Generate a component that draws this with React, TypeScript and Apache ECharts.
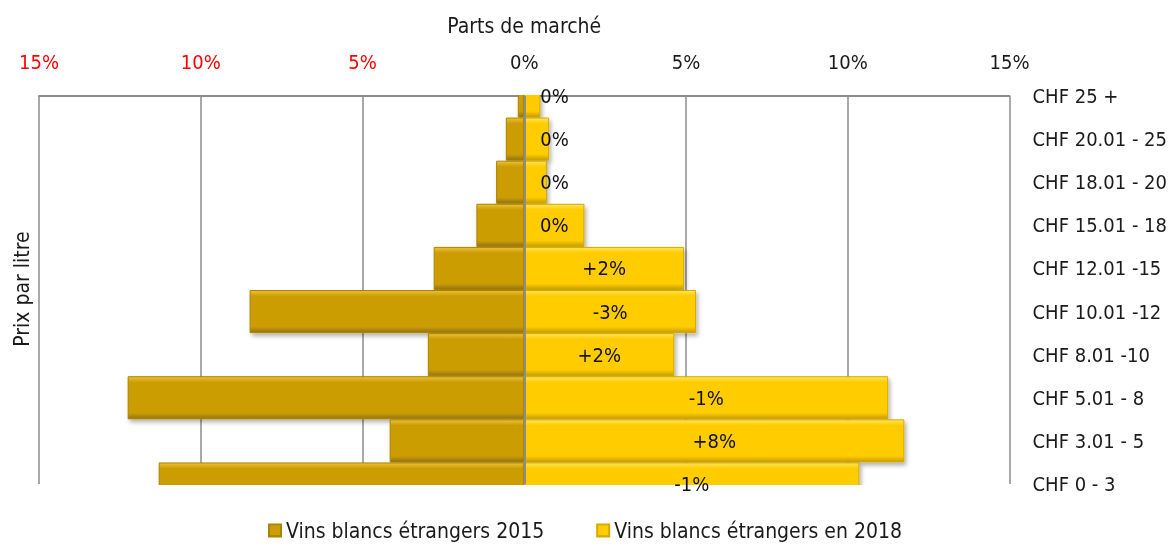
import React, { useEffect, useRef } from "react";
import * as echarts from "echarts";

const categories = [
  "CHF 25 +",
  "CHF 20.01 - 25",
  "CHF 18.01 - 20",
  "CHF 15.01 - 18",
  "CHF 12.01 -15",
  "CHF 10.01 -12",
  "CHF 8.01 -10",
  "CHF 5.01 - 8",
  "CHF 3.01 - 5",
  "CHF 0 - 3",
];
const share2015 = [0.2, 0.57, 0.87, 1.48, 2.8, 8.49, 2.98, 12.26, 4.16, 11.3];
const share2018 = [0.5, 0.77, 0.7, 1.86, 4.94, 5.31, 4.64, 11.25, 11.75, 10.36];
const changeLabels = ["0%", "0%", "0%", "0%", "+2%", "-3%", "+2%", "-1%", "+8%", "-1%"];
const xTicks = { min: -15, max: 15, interval: 5 };

const NAME_2015 = "Vins blancs étrangers 2015";
const NAME_2018 = "Vins blancs étrangers en 2018";
const FONT = '"DejaVu Sans Condensed", "DejaVu Sans", sans-serif';

function bevel(light: string, base: string, dark: string) {
  return new echarts.graphic.LinearGradient(0, 0, 0, 1, [
    { offset: 0, color: light },
    { offset: 0.13, color: base },
    { offset: 0.86, color: base },
    { offset: 1, color: dark },
  ]);
}

export default function App() {
  const ref = useRef<HTMLDivElement>(null);
  useEffect(() => {
    if (!ref.current) return;
    const chart = echarts.init(ref.current, null, { renderer: "svg" });
    const shadow = {
      shadowColor: "rgba(0,0,0,0.3)",
      shadowBlur: 4,
      shadowOffsetX: 2,
      shadowOffsetY: 3,
    };
    const gridLeft = 39;
    const gridRight = 160;
    const gridTop = 96;
    const gridBottom = 62;
    const W = 1170;
    const H = 546;
    chart.setOption({
      animation: false,
      textStyle: { fontFamily: FONT },
      grid: { left: gridLeft, right: gridRight, top: gridTop, bottom: gridBottom, containLabel: false },
      legend: {
        data: [NAME_2015, NAME_2018],
        top: 515,
        left: "center",
        z: 20,
        itemWidth: 12,
        itemHeight: 12,
        itemGap: 52,
        icon: "rect",
        textStyle: { fontFamily: FONT, fontSize: 21, color: "#1a1a1a" },
      },
      xAxis: {
        type: "value",
        position: "top",
        min: xTicks.min,
        max: xTicks.max,
        interval: xTicks.interval,
        name: "Parts de marché",
        nameLocation: "middle",
        nameGap: 60,
        nameTextStyle: { fontFamily: FONT, fontSize: 21, color: "#1a1a1a" },
        axisLine: { show: true, lineStyle: { color: "#8c8c8c", width: 2 } },
        axisTick: { show: false },
        splitLine: { show: true, lineStyle: { color: "#8c8c8c", width: 1.5 } },
        axisLabel: {
          margin: 24,
          fontFamily: FONT,
          fontSize: 20,
          formatter: (v: number) => (v < 0 ? `{neg|${Math.abs(v)}%}` : `{pos|${v}%}`),
          rich: {
            neg: { color: "#ff0000", fontFamily: FONT, fontSize: 20 },
            pos: { color: "#1a1a1a", fontFamily: FONT, fontSize: 20 },
          },
        },
      },
      yAxis: {
        type: "category",
        data: categories,
        inverse: true,
        position: "right",
        boundaryGap: false,
        axisLine: { show: false },
        axisTick: { show: false },
        splitLine: { show: false },
        axisLabel: { margin: 23, color: "#1a1a1a", fontFamily: FONT, fontSize: 20 },
      },
      graphic: [
        {
          type: "rect",
          z: 5,
          silent: true,
          shape: { x: gridLeft - 10, y: gridTop - 24, width: W - gridLeft - gridRight + 20, height: 23 },
          style: { fill: "#ffffff" },
        },
        {
          type: "rect",
          z: 5,
          silent: true,
          shape: { x: gridLeft - 10, y: H - gridBottom + 1, width: W - gridLeft - gridRight + 20, height: 30 },
          style: { fill: "#ffffff" },
        },
        {
          type: "text",
          x: 22,
          y: 289,
          rotation: Math.PI / 2,
          style: {
            text: "Prix par litre",
            fontFamily: FONT,
            fontSize: 21,
            fill: "#1a1a1a",
            align: "center",
            verticalAlign: "middle",
          },
        },
      ],
      series: [
        {
          name: NAME_2015,
          type: "bar",
          data: share2015.map((v) => -v),
          barCategoryGap: "0%",
          barGap: "-100%",
          itemStyle: {
            color: bevel("#ecc234", "#cc9d06", "#93720a"),
            borderColor: "#a98304",
            borderWidth: 1,
            ...shadow,
          },
        },
        {
          name: NAME_2018,
          type: "bar",
          data: share2018,
          barCategoryGap: "0%",
          barGap: "-100%",
          itemStyle: {
            color: bevel("#ffe55a", "#ffcc00", "#c59d00"),
            borderColor: "#d5a900",
            borderWidth: 1,
            ...shadow,
          },
        },
        {
          name: "labels",
          type: "bar",
          data: share2018.map((v) => ({
            value: v,
            label: v < 1 ? { position: "insideLeft", distance: 16 } : { position: "inside" },
          })),
          barCategoryGap: "0%",
          barGap: "-100%",
          silent: true,
          z: 10,
          itemStyle: { color: "rgba(0,0,0,0)" },
          label: {
            show: true,
            fontFamily: FONT,
            fontSize: 20,
            color: "#111",
            formatter: (p: any) => changeLabels[p.dataIndex],
          },
          markLine: {
            silent: true,
            symbol: "none",
            label: { show: false },
            lineStyle: { color: "#8c8c8c", width: 2, type: "solid" },
            data: [{ xAxis: 0 }],
          },
        },
      ],
    });
    return () => chart.dispose();
  }, []);
  return (
    <div
      ref={ref}
      style={{ position: "fixed", left: 0, top: 0, width: 1170, height: 546 }}
    />
  );
}
